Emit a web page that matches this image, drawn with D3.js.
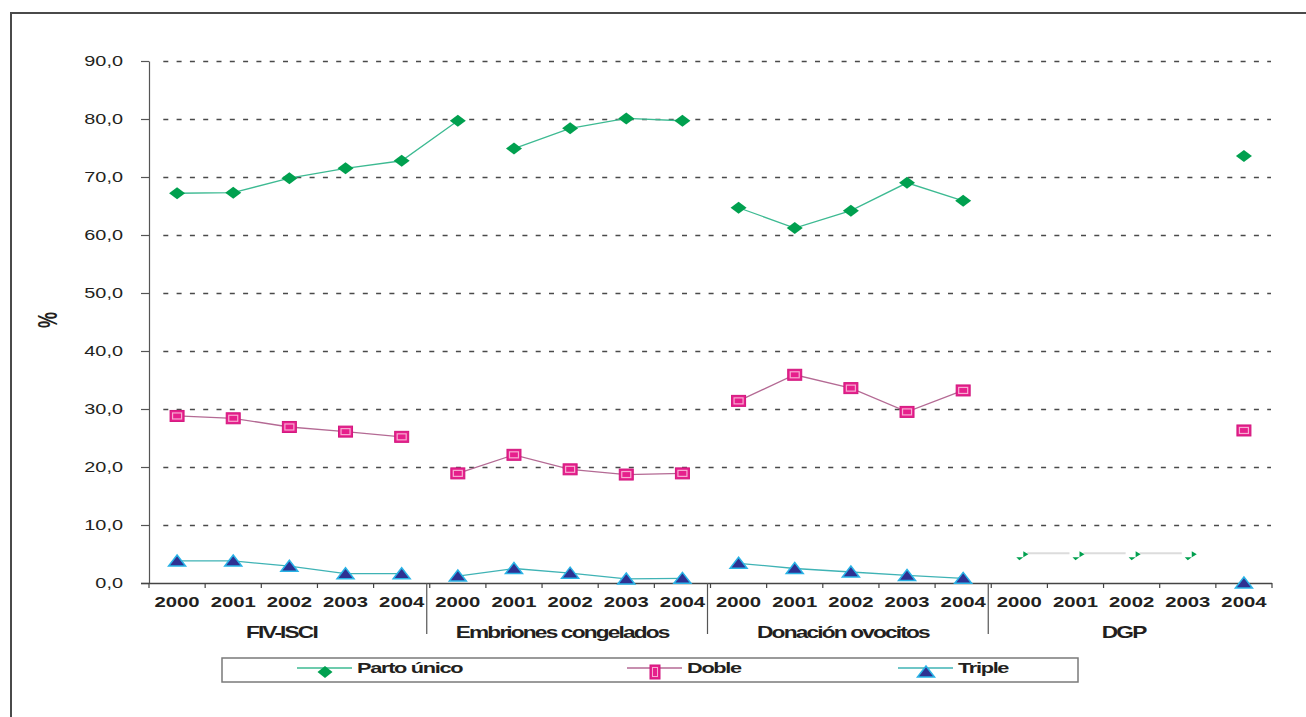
<!DOCTYPE html>
<html>
<head>
<meta charset="utf-8">
<script src="https://cdn.jsdelivr.net/npm/d3@7"></script>
<style>
  html, body { margin: 0; padding: 0; background: #fff; overflow: hidden; }
  svg text { font-family: "Liberation Sans", Arial, sans-serif; fill: #231f20; }
</style>
</head>
<body>
<svg id="chart" width="1306" height="717"></svg>
<script>
// ---- Datos ----
const grupos = ["FIV-ISCI", "Embriones congelados", "Donación ovocitos", "DGP"];
const anios = ["2000", "2001", "2002", "2003", "2004"];
const yTicks = [0, 10, 20, 30, 40, 50, 60, 70, 80, 90];
const serieNombres = ["Parto único", "Doble", "Triple"];

// 20 valores por serie: 4 grupos x 5 años (null = sin dato)
const partoUnico = [67.2, 67.3, 69.8, 71.5, 72.8,
                    79.7, 74.9, 78.4, 80.1, 79.7,
                    64.7, 61.2, 64.2, 69.0, 65.9,
                    null, null, null, null, 73.6];
const doble = [28.8, 28.4, 26.9, 26.1, 25.2,
               18.9, 22.1, 19.6, 18.7, 18.9,
               31.4, 35.9, 33.6, 29.5, 33.2,
               null, null, null, null, 26.3];
const triple = [3.8, 3.8, 2.9, 1.6, 1.6,
                1.2, 2.5, 1.7, 0.7, 0.8,
                3.4, 2.5, 1.9, 1.3, 0.8,
                null, null, null, null, 0.0];
// DGP 2000-2003: marcas residuales sin dato publicado
const dgpSinDato = [4.6, 4.6, 4.6, 4.6];

// tramos de línea continuos (índice inicial, índice final)
const tramosParto = [[0, 5], [6, 9], [10, 14]];
const tramosDoble = [[0, 4], [5, 9], [10, 14]];
const tramosTriple = [[0, 4], [5, 9], [10, 14]];

// ---- Estilo ----
const colParto = "#00a04f", colPartoLinea = "#3dba92";
const colDoble = "#e6208c", colDobleBorde = "#d2177e", colDobleInt = "#f7abd2", colDobleLinea = "#b46a94";
const colTriple = "#2e3192", colTripleBorde = "#29b3e6", colTripleLinea = "#3fb3b5";
const SX = 1.42; // ensanchado horizontal del texto

const svg = d3.select("#chart");
const W = 1306, H = 717;
const m = { left: 149, right: 1272, top: 61, bottom: 583 };

const n = grupos.length * anios.length;
const x = d3.scaleBand().domain(d3.range(n)).range([m.left, m.right]).padding(0);
const y = d3.scaleLinear().domain([0, 90]).range([m.bottom, m.top]);
const cx = i => x(i) + x.bandwidth() / 2;

// marco exterior
svg.append("path")
  .attr("d", `M11,${H + 2} L11,13 L${W + 2},13`)
  .attr("fill", "none").attr("stroke", "#4a4a4a").attr("stroke-width", 2);

// líneas de cuadrícula discontinuas
svg.append("g").selectAll("line").data(yTicks.filter(d => d > 0)).join("line")
  .attr("x1", 156).attr("x2", 1271)
  .attr("y1", d => Math.round(y(d)) + 0.5).attr("y2", d => Math.round(y(d)) + 0.5)
  .attr("stroke", "#4a4a4a").attr("stroke-width", 1.4)
  .attr("stroke-dasharray", "5 8.3").attr("stroke-dashoffset", 6);

// eje Y
const yAxis = svg.append("g").attr("transform", `translate(${m.left},0)`)
  .call(d3.axisLeft(y).tickValues(yTicks).tickSize(8).tickSizeOuter(0).tickFormat(""));
yAxis.select(".domain").attr("stroke", "#555").attr("stroke-width", 1.2);
yAxis.selectAll(".tick line").attr("stroke", "#555").attr("stroke-width", 1.2);

svg.append("g").selectAll("text").data(yTicks).join("text")
  .attr("transform", d => `translate(123,${y(d) + 5}) scale(${SX},1)`)
  .attr("text-anchor", "end").attr("font-size", 14)
  .text(d => d3.format(".1f")(d).replace(".", ","));

// título del eje Y
svg.append("text")
  .attr("transform", `translate(57,320) scale(1.5,1) rotate(-90)`)
  .attr("text-anchor", "middle").attr("font-size", 18).attr("font-weight", "bold")
  .text("%");

// eje X: línea base y marcas en los límites de categoría
const limites = d3.range(n + 1).map(i => i < n ? x(i) : m.right);
const gx = svg.append("g");
gx.append("line").attr("x1", 141).attr("x2", m.right)
  .attr("y1", m.bottom + 0.5).attr("y2", m.bottom + 0.5)
  .attr("stroke", "#444").attr("stroke-width", 1.5);
gx.selectAll("line.tk").data(limites).join("line").attr("class", "tk")
  .attr("x1", d => d).attr("x2", d => d)
  .attr("y1", m.bottom).attr("y2", m.bottom + 5)
  .attr("stroke", "#444").attr("stroke-width", 1.2);

// separadores de grupo
gx.selectAll("line.sep").data(d3.range(1, grupos.length)).join("line").attr("class", "sep")
  .attr("x1", g => x(g * anios.length) - 3).attr("x2", g => x(g * anios.length) - 3)
  .attr("y1", m.bottom).attr("y2", 634)
  .attr("stroke", "#555").attr("stroke-width", 1.2);

// etiquetas de años
gx.selectAll("text.anio").data(d3.range(n)).join("text").attr("class", "anio")
  .attr("transform", i => `translate(${cx(i)},607) scale(1.45,1)`)
  .attr("text-anchor", "middle").attr("font-size", 14).attr("font-weight", "bold")
  .text(i => anios[i % anios.length]);

// etiquetas de grupo
gx.selectAll("text.grupo").data(grupos).join("text").attr("class", "grupo")
  .attr("transform", (g, gi) => {
    const a = x(gi * anios.length), b = gi === grupos.length - 1 ? m.right : x((gi + 1) * anios.length);
    return `translate(${(a + b) / 2 - 8},638) scale(${SX},1)`;
  })
  .attr("text-anchor", "middle").attr("font-size", 16).attr("font-weight", "bold")
  .attr("letter-spacing", -1.3)
  .text(g => g);

// ---- Marcadores ----
function diamante(sel, px, py, w, h) {
  sel.append("path")
    .attr("d", `M${px},${py - h / 2} L${px + w / 2},${py} L${px},${py + h / 2} L${px - w / 2},${py} Z`)
    .attr("fill", colParto);
}
function cuadrado(sel, px, py) {
  sel.append("rect").attr("x", px - 7).attr("y", py - 5.5).attr("width", 14).attr("height", 11)
    .attr("fill", colDoble).attr("stroke", colDobleBorde).attr("stroke-width", 1);
  sel.append("rect").attr("x", px - 4.5).attr("y", py - 3).attr("width", 9).attr("height", 6)
    .attr("fill", "none").attr("stroke", colDobleInt).attr("stroke-width", 1.2);
}
function triangulo(sel, px, py) {
  sel.append("path")
    .attr("d", `M${px},${py - 6} L${px + 8.5},${py + 5} L${px - 8.5},${py + 5} Z`)
    .attr("fill", colTriple).attr("stroke", colTripleBorde).attr("stroke-width", 1.5)
    .attr("stroke-linejoin", "miter");
}

function dibujarSerie(valores, tramos, colLinea, marcador) {
  const g = svg.append("g");
  tramos.forEach(([a, b]) => {
    const pts = d3.range(a, b + 1).map(i => [cx(i), y(valores[i])]);
    g.append("path").attr("d", d3.line()(pts))
      .attr("fill", "none").attr("stroke", colLinea).attr("stroke-width", 1.3);
  });
  valores.forEach((v, i) => { if (v !== null) marcador(g, cx(i), y(v)); });
}

dibujarSerie(partoUnico, tramosParto, colPartoLinea, (g, px, py) => diamante(g, px, py, 16, 12));
dibujarSerie(doble, tramosDoble, colDobleLinea, cuadrado);
dibujarSerie(triple, tramosTriple, colTripleLinea, triangulo);

// DGP 2000-2003: marcas incompletas con trazo claro
const gSin = svg.append("g");
dgpSinDato.forEach((v, k) => {
  const i = 3 * anios.length + k, px = cx(i) + 2, py = y(v);
  if (k < dgpSinDato.length - 1) {
    gSin.append("line").attr("x1", px + 6).attr("x2", cx(i + 1) - 6)
      .attr("y1", py - 3).attr("y2", py - 3).attr("stroke", "#dcdcdc").attr("stroke-width", 2);
  }
  gSin.append("path").attr("d", `M${px - 5},${py + 1} L${px + 2},${py + 1} L${px - 2},${py + 4} Z`).attr("fill", colParto);
  gSin.append("path").attr("d", `M${px + 2},${py - 5} L${px + 7},${py - 2} L${px + 2},${py + 1} Z`).attr("fill", colParto);
});

// ---- Leyenda ----
const leg = svg.append("g");
leg.append("rect").attr("x", 222).attr("y", 658).attr("width", 856).attr("height", 24)
  .attr("fill", "none").attr("stroke", "#7a7a7a").attr("stroke-width", 1.5);
const legX = [297, 627, 898];
const legLinea = [colPartoLinea, colDobleLinea, colTripleLinea];
const legMarca = [
  (g, px, py) => diamante(g, px, py, 15, 12),
  (g, px, py) => {
    g.append("rect").attr("x", px - 5).attr("y", py - 7).attr("width", 10).attr("height", 14)
      .attr("fill", colDoble).attr("stroke", colDobleBorde);
    g.append("rect").attr("x", px - 2.5).attr("y", py - 4.5).attr("width", 5).attr("height", 9)
      .attr("fill", "none").attr("stroke", colDobleInt);
  },
  triangulo
];
serieNombres.forEach((s, k) => {
  const g = leg.append("g");
  g.append("line").attr("x1", legX[k]).attr("x2", legX[k] + 55)
    .attr("y1", 668).attr("y2", 668).attr("stroke", legLinea[k]).attr("stroke-width", 1.5);
  legMarca[k](g, legX[k] + 28, 672);
  g.append("text").attr("transform", `translate(${legX[k] + 60},673) scale(1.45,1)`)
    .attr("font-size", 15).attr("font-weight", "bold").attr("letter-spacing", -0.9)
    .text(s);
});
</script>
</body>
</html>
